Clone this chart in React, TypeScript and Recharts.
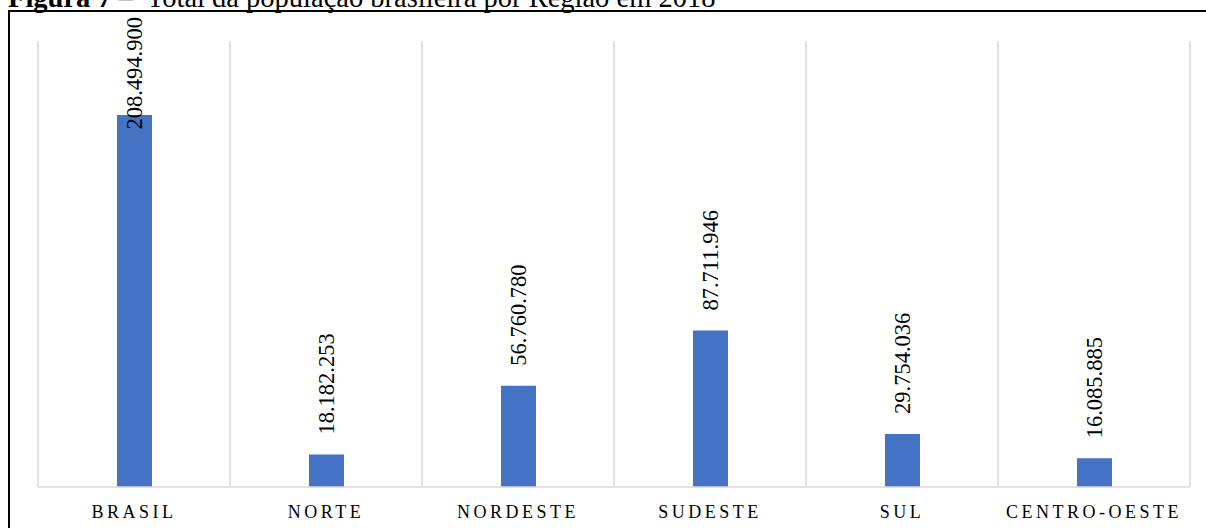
import React from "react";
import { BarChart, Bar, XAxis, YAxis, CartesianGrid, LabelList } from "recharts";

const regions = ["BRASIL", "NORTE", "NORDESTE", "SUDESTE", "SUL", "CENTRO-OESTE"];
const population = [208494900, 18182253, 56760780, 87711946, 29754036, 16085885];

const chartData = regions.map((name, i) => ({ name, value: population[i] }));

const SERIF = '"Liberation Serif", "Times New Roman", serif';
const LABEL_SIZE = 22.5;

const formatBR = (v: number) => String(v).replace(/\B(?=(\d{3})+(?!\d))/g, ".");

// rough width of a digit string in a Times-like face
const textWidth = (s: string) =>
  s.split("").reduce((w, ch) => w + (ch === "." ? 0.25 : 0.5), 0) * LABEL_SIZE;

function ValueLabel(props: any) {
  const { x, y, width, value } = props;
  const txt = formatBR(Number(value));
  const cx = x + width / 2;
  // keep the label inside the chart area when the bar is too tall
  const bottom = Math.max(y - 20, 17 + textWidth(txt));
  return (
    <text
      x={cx}
      y={bottom}
      transform={`rotate(-90, ${cx}, ${bottom})`}
      textAnchor="start"
      dominantBaseline="central"
      style={{ fontFamily: SERIF, fontSize: LABEL_SIZE }}
      fill="#000"
    >
      {txt}
    </text>
  );
}

function RegionTick(props: any) {
  const { x, y, payload } = props;
  return (
    <text
      x={x}
      y={y + 23}
      textAnchor="middle"
      style={{ fontFamily: SERIF, fontSize: 18, letterSpacing: 3.5 }}
      fill="#000"
    >
      {payload.value}
    </text>
  );
}

export default function App() {
  return (
    <div
      style={{
        position: "absolute",
        left: 0,
        top: 0,
        width: 1206,
        height: 528,
        overflow: "hidden",
        background: "#fff",
      }}
    >
      <div
        style={{
          position: "absolute",
          left: 8,
          top: -16,
          fontFamily: SERIF,
          fontSize: 28.5,
          lineHeight: "28px",
          whiteSpace: "pre",
          color: "#000",
        }}
      >
        <b>Figura 7</b>{" –  Total da população brasileira por Região em 2018"}
      </div>
      <div
        style={{
          position: "absolute",
          left: 8,
          top: 10,
          width: 1300,
          height: 600,
          border: "2px solid #000",
        }}
      />
      <div style={{ position: "absolute", left: 0, top: 0 }}>
        <BarChart
          width={1206}
          height={528}
          data={chartData}
          margin={{ top: 41, right: 16, bottom: 0, left: 38 }}
          barCategoryGap={0}
        >
          <CartesianGrid
            horizontal={false}
            stroke="#d9d9d9"
            strokeWidth={1.5}
            verticalCoordinatesGenerator={({ offset }: any) =>
              regions.map((_, i) => offset.left + (i * offset.width) / regions.length).concat(
                offset.left + offset.width
              )
            }
          />
          <XAxis
            dataKey="name"
            height={41}
            tickLine={false}
            axisLine={{ stroke: "#d9d9d9", strokeWidth: 1.5 }}
            tick={<RegionTick />}
            interval={0}
          />
          <YAxis hide domain={[0, 250000000]} />
          <Bar dataKey="value" fill="#4472C4" barSize={35} isAnimationActive={false}>
            <LabelList dataKey="value" content={<ValueLabel />} />
          </Bar>
        </BarChart>
      </div>
    </div>
  );
}
